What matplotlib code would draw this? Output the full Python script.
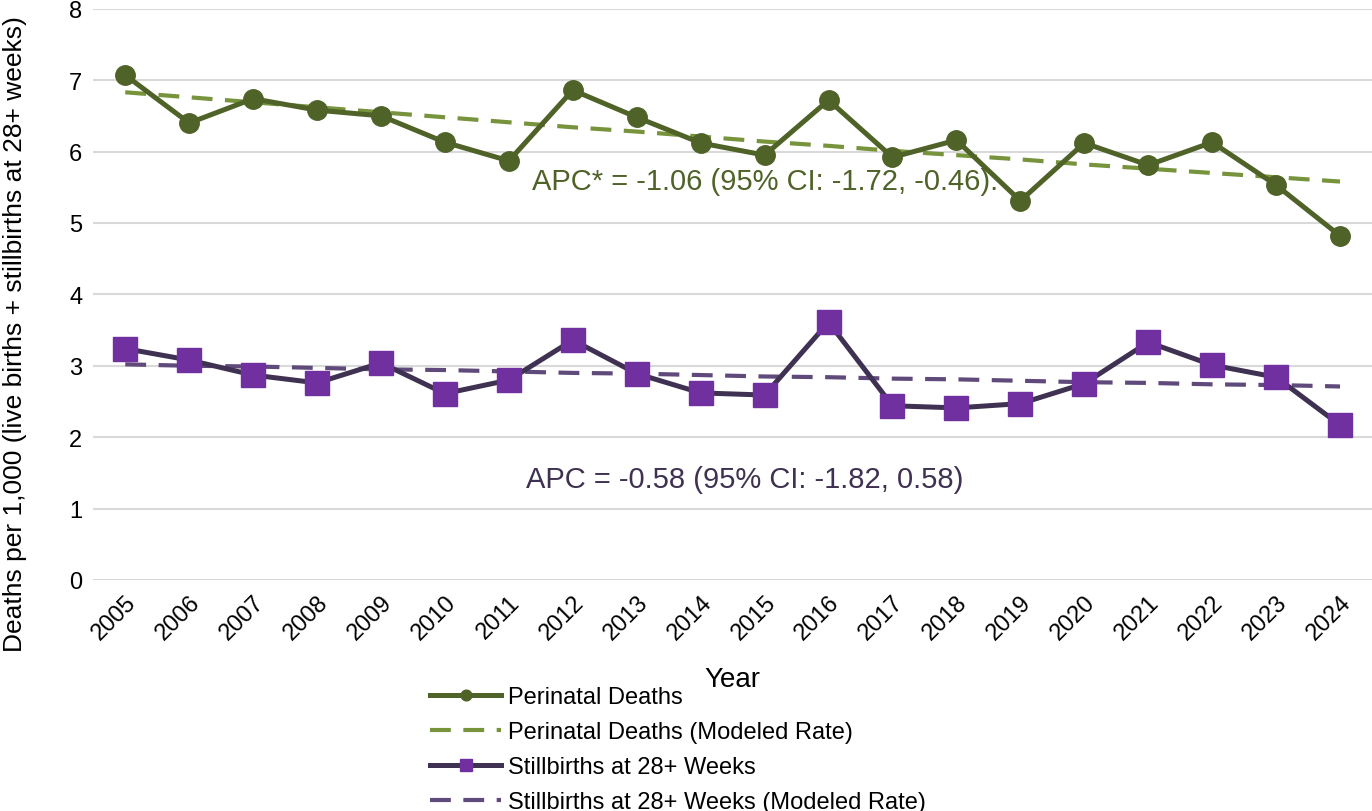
import matplotlib
matplotlib.use('Agg')
import matplotlib.pyplot as plt

plt.rcParams['font.family'] = ['Liberation Sans', 'DejaVu Sans']

# data
years = [str(y) for y in range(2005, 2025)]
perinatal = [7.07, 6.40, 6.74, 6.58, 6.50, 6.13, 5.87, 6.86, 6.48, 6.12,
             5.95, 6.72, 5.92, 6.16, 5.31, 6.12, 5.81, 6.13, 5.53, 4.82]
perinatal_model = [6.83, 6.76, 6.69, 6.62, 6.55, 6.48, 6.41, 6.34, 6.28, 6.21,
                   6.14, 6.08, 6.01, 5.95, 5.89, 5.82, 5.76, 5.70, 5.64, 5.58]
stillbirth = [3.24, 3.08, 2.87, 2.76, 3.04, 2.61, 2.80, 3.36, 2.89, 2.62,
              2.59, 3.61, 2.44, 2.41, 2.47, 2.75, 3.33, 3.01, 2.84, 2.17]
stillbirth_model = [3.02, 3.00, 2.99, 2.97, 2.95, 2.94, 2.92, 2.90, 2.89, 2.87,
                    2.85, 2.84, 2.82, 2.81, 2.79, 2.77, 2.76, 2.74, 2.73, 2.71]

fig = plt.figure(figsize=(13.72, 8.12), dpi=100)
ax = fig.add_axes([0.068, 0.2845, 0.932, 0.7035])

x = list(range(len(years)))

ax.plot(x, perinatal, color='#4F6228', lw=3.6, marker='o', markersize=14,
        label='Perinatal Deaths', zorder=4)
ax.plot(x, perinatal_model, color='#77933C', lw=3, dashes=(5, 3),
        label='Perinatal Deaths (Modeled Rate)', zorder=3)
ax.plot(x, stillbirth, color='#3F3151', lw=3.6, marker='s', markersize=17,
        markerfacecolor='#7030A0', markeredgecolor='#7030A0',
        label='Stillbirths at 28+ Weeks', zorder=4)
ax.plot(x, stillbirth_model, color='#604A7B', lw=3, dashes=(5, 3),
        label='Stillbirths at 28+ Weeks (Modeled Rate)', zorder=3)

ax.text(10.0, 5.59, 'APC* = -1.06 (95% CI: -1.72, -0.46).', color='#4F6228',
        fontsize=21, ha='center', va='center')
ax.text(9.69, 1.41, 'APC = -0.58 (95% CI: -1.82, 0.58)', color='#3F3151',
        fontsize=21, ha='center', va='center')

ax.set_xlim(-0.5, len(years) - 0.5)
ax.set_ylim(0, 8)
ax.set_yticks(range(0, 9))
ax.set_xticks(x)
ax.set_xticklabels(years, rotation=45, ha='right', rotation_mode='anchor')
ax.tick_params(axis='both', length=0, labelsize=17, pad=8)
ax.grid(axis='y', color='#D9D9D9', lw=1.5)
ax.set_axisbelow(True)
for s in ax.spines.values():
    s.set_visible(False)

ax.set_xlabel('Year', fontsize=20, labelpad=16)
# y label sits lower than the axes centre in the original
fig.text(0.011, 0.588, 'Deaths per 1,000 (live births + stillbirths at 28+ weeks)',
         fontsize=19, rotation=90, ha='center', va='center')

fig.legend(loc='upper left', bbox_to_anchor=(0.305, 0.168), frameon=False,
           fontsize=17, handlelength=3.0, markerscale=0.55, labelspacing=0.55,
           handletextpad=0.3, borderpad=0)

fig.savefig('out.png', dpi=100)
